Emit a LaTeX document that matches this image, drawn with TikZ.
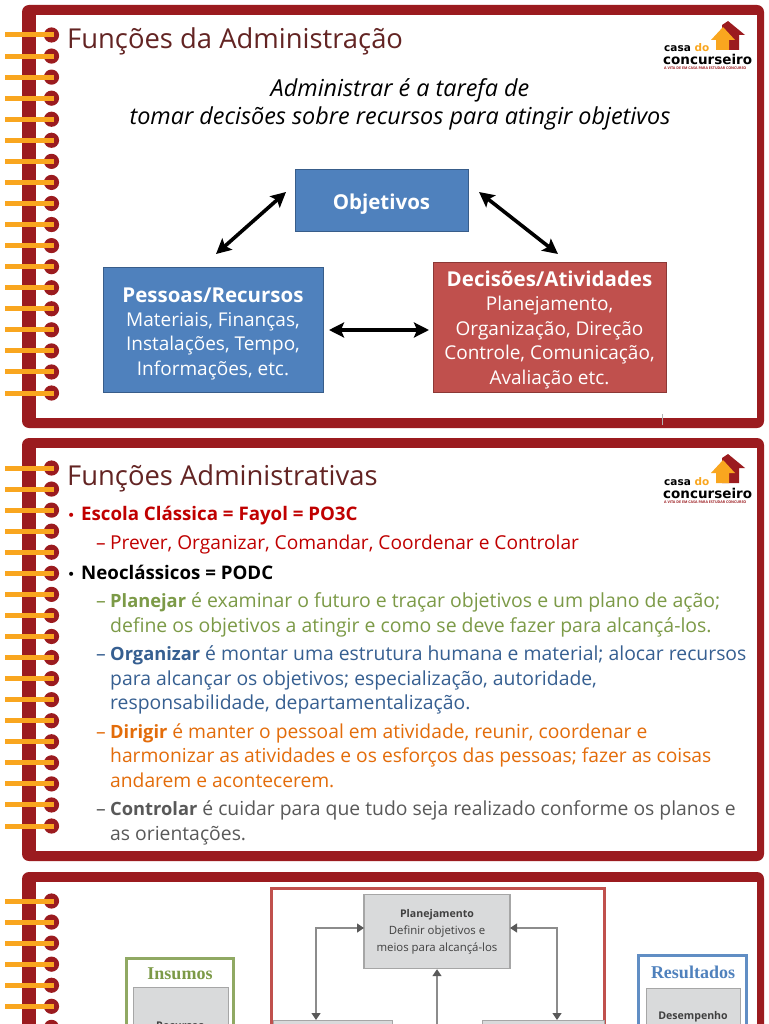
\documentclass[tikz,border=0pt]{standalone}
\usepackage{fontspec}
\setmainfont{Open Sans}
\newfontfamily\logofont{DejaVu Sans}
\newfontfamily\serifb{Liberation Serif}
\usetikzlibrary{arrows.meta}
\definecolor{frame}{HTML}{9B1B1F}
\definecolor{ringo}{HTML}{F9A61F}
\definecolor{titlec}{HTML}{632423}
\definecolor{bluebox}{HTML}{4F81BD}
\definecolor{blueedge}{HTML}{385D8A}
\definecolor{redbox}{HTML}{C0504D}
\definecolor{rededge}{HTML}{8C3836}
\definecolor{greyb}{HTML}{D9DADB}
\definecolor{greye}{HTML}{A6A6A6}
\definecolor{greenx}{HTML}{7C9A47}
\definecolor{orangex}{HTML}{E36C0A}
\definecolor{bluex}{HTML}{365F91}
\definecolor{greyx}{HTML}{595959}
\definecolor{redx}{HTML}{C00000}
\tikzset{
 ring/.style={fill=frame,draw=none},
 bar/.style={draw=ringo,line width=5pt},
 titlenode/.style={anchor=base west,text=titlec,font=\fontsize{27.4}{28}\selectfont,inner sep=0pt},
 body/.style={anchor=base west,inner sep=0pt,font=\fontsize{19.15}{20}\selectfont},
 bodygreen/.style={body,text=greenx,font=\fontsize{19.45}{20}\selectfont},
 bodyblue/.style={body,text=bluex,font=\fontsize{19.35}{20}\selectfont},
 bodyorange/.style={body,text=orangex,font=\fontsize{19.25}{20}\selectfont},
 bodygrey/.style={body,text=greyx,font=\fontsize{19.35}{20}\selectfont},
 boxb/.style={draw=blueedge,fill=bluebox,line width=1pt,text=white,align=center,font=\fontsize{19}{24.4}\selectfont},
 boxr/.style={draw=rededge,fill=redbox,line width=1pt,text=white,align=center,font=\fontsize{19}{24.4}\selectfont},
 dbl/.style={{Stealth[length=15pt,width=15pt,inset=3pt]}-{Stealth[length=15pt,width=15pt,inset=3pt]},line width=3.6pt,black},
 grey/.style={draw=greye,fill=greyb,line width=1.2pt,align=center,text=black!75,font=\fontsize{11.4}{17}\selectfont},
 conn/.style={draw=black!45,line width=1.2pt,-{Triangle[length=7pt,width=9pt,color=black!65]}},
 conn2/.style={draw=black!45,line width=1.2pt,{Triangle[length=7pt,width=9pt,color=black!65]}-{Triangle[length=7pt,width=9pt,color=black!65]}},
}
\newcommand{\dashitem}{\makebox[14pt][l]{–}}
\newcommand{\bul}{{\logofont\fontsize{14}{14}\selectfont •}}
\newcommand{\bodyb}[1]{{\fontsize{18.3}{20}\selectfont\bfseries #1}}
\newcommand{\headb}[1]{{\fontsize{20.5}{24.4}\selectfont\bfseries #1}}
\newcommand{\casalogo}[1]{%
 \begin{scope}[yshift=#1]
  \fill[frame] (728,21) -- (745,35) -- (739,35) -- (739,50) -- (722,50) -- (722,25) -- cycle;
  \fill[ringo] (723,27) -- (735,40) -- (729,40) -- (729,50) -- (716,50) -- (716,40) -- (711,40) -- cycle;
  \node[anchor=base west,inner sep=0pt,font=\logofont\fontsize{10.5}{10}\selectfont\bfseries,text=black] at (664,52) {casa \textcolor{ringo}{do}};
  \node[anchor=base west,inner sep=0pt,font=\logofont\fontsize{13.5}{10}\selectfont\bfseries,text=black] at (663,65) {concurseiro};
  \node[anchor=base west,inner sep=0pt,font=\fontsize{3.6}{4}\selectfont\bfseries,text=frame] at (664,70) {A VITA DE EM CASA PARA ESTUDAR CONCURSO};
 \end{scope}}
\newcommand{\slideframe}[2]{%
 \fill[frame,rounded corners=7pt] (22,#1) rectangle (764,#2);
 \fill[white] (36,#1+10) rectangle (757,#2-10);
}
\begin{document}
\begin{tikzpicture}[x=1pt,y=-1pt]
\useasboundingbox (0,0) rectangle (768,1024);
\fill[white] (0,0) rectangle (768,1024);
\clip (0,0) rectangle (768,1024);
% frames
\slideframe{5}{428}
\slideframe{438}{861}
\slideframe{872}{1060}
\draw[black!30,line width=0.6pt] (662,414) -- (662,425);
% rings
\foreach \y in {0,...,17}{
 \fill[ring] (51.5,35+21.06*\y) circle (7.6);
 \draw[bar] (5,35+21.06*\y) -- (54,35+21.06*\y);
 \fill[ring] (51.5,468+21.06*\y) circle (7.6);
 \draw[bar] (5,468+21.06*\y) -- (54,468+21.06*\y);
}
\foreach \y in {0,...,6}{
 \fill[ring] (51.5,901+21.06*\y) circle (7.6);
 \draw[bar] (5,901+21.06*\y) -- (54,901+21.06*\y);
}
% slide 1
\node[titlenode] (t1) at (67,48.5) {Funções da Administração};
\casalogo{0}
\node[inner sep=0pt,font=\fontsize{23.4}{28}\selectfont\itshape,align=center] (sub) at (400,104) {Administrar é a tarefa de\\tomar decisões sobre recursos para atingir objetivos};
\node[boxb,minimum width=173pt,minimum height=62pt] (obj) at (381.5,201) {\rule{0pt}{22pt}\headb{Objetivos}};
\node[boxb,minimum width=220pt,minimum height=125pt] (pes) at (213,329.5) {\rule{0pt}{23pt}\headb{Pessoas/Recursos}\\Materiais, Finanças,\\Instalações, Tempo,\\Informações, etc.};
\node[boxr,minimum width=233pt,minimum height=130pt] (dec) at (549.5,327) {\rule{0pt}{21pt}\headb{Decisões/Atividades}\\Planejamento,\\Organização, Direção\\Controle, Comunicação,\\Avaliação etc.};
\coordinate (a1) at (286,192); \coordinate (a2) at (216,254);
\coordinate (b1) at (479,192); \coordinate (b2) at (558,254);
\coordinate (c1) at (329,330); \coordinate (c2) at (429,330);
\draw[dbl] (a1) -- (a2);
\draw[dbl] (b1) -- (b2);
\draw[dbl] (c1) -- (c2);
% slide 2
\node[titlenode] (t2) at (67,485.5) {Funções Administrativas};
\casalogo{-433}
\node[body,text=redx] (l0) at (67,520) {\bul};
\node[body,text=redx] (l1) at (81,520) {\fontsize{18.7}{20}\selectfont\bfseries Escola Clássica = Fayol = PO3C};
\node[body,text=redx] (l2) at (96,549) {\dashitem Prever, Organizar, Comandar, Coordenar e Controlar};
\node[body] (l3b) at (67,579) {\bul};
\node[body] (l3) at (81,579) {\fontsize{18.7}{20}\selectfont\bfseries Neoclássicos = PODC};
\node[bodygreen] (l4) at (96,607) {\dashitem\bodyb{Planejar} é examinar o futuro e traçar objetivos e um plano de ação;};
\node[bodygreen] (l5) at (110,632) {define os objetivos a atingir e como se deve fazer para alcançá-los.};
\node[bodyblue] (l6) at (96,660) {\dashitem\bodyb{Organizar} é montar uma estrutura humana e material; alocar recursos};
\node[bodyblue] (l7) at (110,685) {para alcançar os objetivos; especialização, autoridade,};
\node[bodyblue] (l8) at (110,709) {responsabilidade, departamentalização.};
\node[bodyorange] (l9) at (96,738) {\dashitem\bodyb{Dirigir} é manter o pessoal em atividade, reunir, coordenar e};
\node[bodyorange] (l10) at (110,762.5) {harmonizar as atividades e os esforços das pessoas; fazer as coisas};
\node[bodyorange] (l11) at (110,787) {andarem e acontecerem.};
\node[bodygrey] (l12) at (96,815) {\dashitem\bodyb{Controlar} é cuidar para que tudo seja realizado conforme os planos e};
\node[bodygrey] (l13) at (110,840) {as orientações.};
% slide 3
\draw[draw=redbox,line width=3pt] (271.5,1040) -- (271.5,888) -- (604.5,888) -- (604.5,1040);
\node[grey,minimum width=146pt,minimum height=74pt,anchor=north] (pl) at (437,894) {{\fontsize{10.6}{17}\selectfont\bfseries Planejamento}\\Definir objetivos e\\meios para alcançá-los};
\draw[draw=greenx!85!white,line width=3.2pt] (126.5,1040) -- (126.5,958.5) -- (233.5,958.5) -- (233.5,1040);
\node[inner sep=0pt,font=\serifb\fontsize{18}{18}\selectfont\bfseries,text=greenx] (ins) at (180,974) {Insumos};
\node[draw=greye,fill=greyb,line width=1.2pt,anchor=north west,minimum width=95pt,minimum height=60pt] (rb) at (133,987) {};
\node[inner sep=0pt,font=\fontsize{10.6}{10}\selectfont\bfseries,text=black!75] (rt) at (180,1025.5) {Recursos};
\draw[draw=bluebox!90!white,line width=3.2pt] (638.5,1040) -- (638.5,955.5) -- (746.5,955.5) -- (746.5,1040);
\node[inner sep=0pt,font=\serifb\fontsize{18}{18}\selectfont\bfseries,text=bluebox] (res) at (693,972) {Resultados};
\node[draw=greye,fill=greyb,line width=1.2pt,anchor=north west,minimum width=94pt,minimum height=60pt] (db) at (646,988) {};
\node[inner sep=0pt,font=\fontsize{10.6}{10}\selectfont\bfseries,text=black!75] (dt) at (693,1017) {Desempenho};
\node[draw=greye,fill=greyb,line width=1.2pt,anchor=north west,minimum width=119pt,minimum height=40pt] (lb) at (273,1020) {};
\node[draw=greye,fill=greyb,line width=1.2pt,anchor=north west,minimum width=122pt,minimum height=40pt] (rrb) at (482,1020) {};
\coordinate (plw) at (364,928); \coordinate (ple) at (510,928);
\coordinate (lbt) at (316,1020); \coordinate (rbt) at (557,1020);
\coordinate (bot) at (437,1024);
\draw[conn2] (plw) -| (lbt);
\draw[conn2] (ple) -| (rbt);
\draw[conn] (bot) -- (pl.south);
\end{tikzpicture}
\end{document}
